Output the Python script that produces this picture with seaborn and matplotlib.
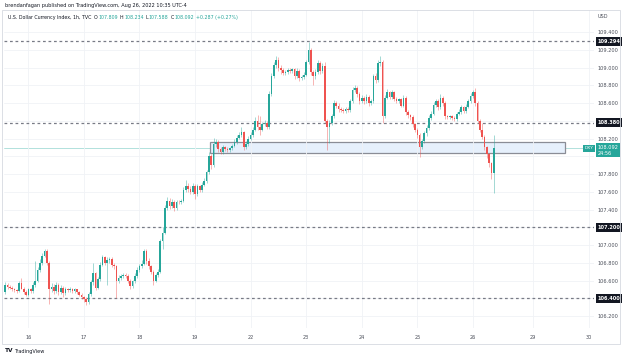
import pandas as pd
import matplotlib
matplotlib.use("Agg")
import matplotlib.pyplot as plt
import matplotlib.transforms as mtransforms
from matplotlib.patches import Rectangle
import seaborn as sns

# hourly DXY candles (open = previous close)
first_open = 106.47
closes = [
    106.55, 106.53, 106.52, 106.50, 106.49, 106.48, 106.57, 106.51, 106.47, 106.44,
    106.50, 106.48, 106.55, 106.60, 106.72, 106.80, 106.88, 106.93, 106.80, 106.50,
    106.53, 106.48, 106.55, 106.47, 106.52, 106.46, 106.50, 106.49, 106.51, 106.48,
    106.50, 106.47, 106.44, 106.41, 106.39, 106.36, 106.45, 106.58, 106.68, 106.52,
    106.62, 106.78, 106.86, 106.80, 106.83, 106.84, 106.78, 106.76, 106.60, 106.63,
    106.65, 106.66, 106.65, 106.60, 106.54, 106.59, 106.65, 106.72, 106.76, 106.79,
    106.93, 106.82, 106.76, 106.70, 106.60, 106.66, 106.70, 107.04, 107.14, 107.42,
    107.50, 107.44, 107.49, 107.42, 107.49, 107.48, 107.50, 107.62, 107.66, 107.63,
    107.60, 107.67, 107.57, 107.66, 107.62, 107.68, 107.72, 107.82, 108.00, 107.90,
    108.14, 108.16, 108.08, 108.05, 108.10, 108.08, 108.07, 108.09, 108.12, 108.16,
    108.21, 108.24, 108.27, 108.10, 108.14, 108.20, 108.24, 108.30, 108.40, 108.33,
    108.30, 108.36, 108.38, 108.33, 108.70, 108.90, 109.03, 109.08, 109.00, 108.97,
    108.94, 108.95, 108.97, 108.96, 108.98, 108.90, 108.96, 108.88, 108.89, 108.92,
    109.06, 109.20, 108.95, 108.90, 108.95, 109.05, 108.96, 109.02, 108.40, 108.33,
    108.38, 108.45, 108.60, 108.57, 108.53, 108.52, 108.51, 108.53, 108.52, 108.62,
    108.75, 108.77, 108.70, 108.62, 108.66, 108.62, 108.67, 108.60, 108.62, 108.90,
    108.86, 109.05, 109.06, 108.45, 108.66, 108.72, 108.67, 108.72, 108.65, 108.62,
    108.64, 108.57, 108.66, 108.50, 108.46, 108.44, 108.36, 108.30, 108.24, 108.11,
    108.17, 108.26, 108.32, 108.43, 108.48, 108.58, 108.62, 108.55, 108.66, 108.60,
    108.45, 108.44, 108.45, 108.43, 108.42, 108.48, 108.50, 108.55, 108.51, 108.56,
    108.62, 108.68, 108.72, 108.60, 108.40, 108.30, 108.22, 108.10, 108.02, 107.92,
    107.809, 108.092,
]
highs = [
    106.58, 106.57, 106.55, 106.54, 106.52, 106.51, 106.60, 106.63, 106.53, 106.49,
    106.52, 106.52, 106.58, 106.82, 106.75, 106.84, 106.91, 106.96, 106.95, 106.82,
    106.57, 106.56, 106.58, 106.57, 106.55, 106.54, 106.53, 106.52, 106.53, 106.52,
    106.52, 106.51, 106.48, 106.46, 106.43, 106.41, 106.47, 106.61, 106.80, 106.70,
    106.64, 106.81, 106.89, 106.88, 106.86, 106.87, 106.87, 106.80, 106.78, 106.66,
    106.67, 106.68, 106.68, 106.67, 106.62, 106.61, 106.68, 106.75, 106.79, 106.83,
    106.96, 106.95, 106.85, 106.78, 106.72, 106.69, 106.73, 107.07, 107.20, 107.45,
    107.54, 107.53, 107.52, 107.51, 107.51, 107.51, 107.52, 107.65, 107.73, 107.70,
    107.66, 107.70, 107.69, 107.69, 107.68, 107.71, 107.75, 107.85, 108.05, 108.02,
    108.21, 108.19, 108.18, 108.10, 108.13, 108.12, 108.10, 108.11, 108.14, 108.19,
    108.24, 108.27, 108.33, 108.29, 108.17, 108.23, 108.27, 108.33, 108.44, 108.47,
    108.45, 108.39, 108.41, 108.40, 108.73, 108.94, 109.06, 109.13, 109.12, 109.03,
    108.99, 108.97, 108.99, 108.99, 109.00, 109.00, 108.99, 108.98, 108.92, 108.95,
    109.09, 109.29, 109.22, 108.97, 108.98, 109.09, 109.07, 109.05, 109.06, 108.42,
    108.41, 108.48, 108.63, 108.62, 108.60, 108.55, 108.54, 108.55, 108.55, 108.65,
    108.78, 108.80, 108.79, 108.72, 108.69, 108.68, 108.70, 108.69, 108.65, 108.93,
    108.94, 109.08, 109.13, 109.08, 108.69, 108.76, 108.74, 108.75, 108.74, 108.67,
    108.66, 108.66, 108.69, 108.68, 108.52, 108.48, 108.46, 108.38, 108.32, 108.26,
    108.20, 108.29, 108.35, 108.46, 108.51, 108.61, 108.65, 108.64, 108.70, 108.68,
    108.62, 108.47, 108.47, 108.47, 108.45, 108.50, 108.53, 108.58, 108.57, 108.59,
    108.65, 108.71, 108.75, 108.77, 108.62, 108.42, 108.38, 108.24, 108.12, 108.04,
    107.94, 108.234,
]
lows = [
    106.45, 106.51, 106.50, 106.48, 106.47, 106.46, 106.47, 106.50, 106.45, 106.42,
    106.43, 106.46, 106.46, 106.53, 106.58, 106.70, 106.77, 106.86, 106.77, 106.33,
    106.47, 106.45, 106.46, 106.44, 106.45, 106.41, 106.44, 106.47, 106.47, 106.46,
    106.46, 106.45, 106.42, 106.39, 106.36, 106.32, 106.34, 106.43, 106.55, 106.49,
    106.50, 106.60, 106.76, 106.77, 106.55, 106.80, 106.75, 106.73, 106.40, 106.57,
    106.61, 106.63, 106.63, 106.57, 106.51, 106.52, 106.57, 106.63, 106.70, 106.74,
    106.77, 106.79, 106.73, 106.67, 106.55, 106.58, 106.64, 106.68, 106.96, 107.12,
    107.40, 107.41, 107.42, 107.38, 107.40, 107.46, 107.46, 107.48, 107.60, 107.60,
    107.57, 107.58, 107.52, 107.55, 107.60, 107.60, 107.66, 107.70, 107.80, 107.86,
    107.88, 108.11, 108.05, 108.02, 108.03, 108.06, 108.05, 108.05, 108.07, 108.10,
    108.14, 108.19, 108.22, 108.07, 108.08, 108.12, 108.18, 108.22, 108.28, 108.30,
    108.24, 108.28, 108.34, 108.31, 108.31, 108.68, 108.88, 109.00, 108.96, 108.93,
    108.91, 108.92, 108.93, 108.94, 108.94, 108.87, 108.88, 108.85, 108.86, 108.87,
    108.90, 109.04, 108.92, 108.80, 108.87, 108.93, 108.93, 108.94, 108.37, 108.07,
    108.15, 108.35, 108.43, 108.54, 108.50, 108.50, 108.49, 108.49, 108.50, 108.50,
    108.60, 108.72, 108.67, 108.59, 108.60, 108.59, 108.60, 108.57, 108.58, 108.60,
    108.82, 108.84, 109.02, 108.38, 108.43, 108.64, 108.64, 108.65, 108.62, 108.60,
    108.60, 108.55, 108.55, 108.47, 108.43, 108.41, 108.33, 108.27, 108.21, 107.99,
    108.08, 108.15, 108.23, 108.30, 108.41, 108.46, 108.56, 108.52, 108.53, 108.57,
    108.42, 108.42, 108.42, 108.41, 108.40, 108.40, 108.46, 108.48, 108.49, 108.49,
    108.54, 108.60, 108.66, 108.57, 108.37, 108.27, 108.19, 108.07, 107.98, 107.88,
    107.74, 107.588,
]

day_labels = ["16", "17", "18", "19", "22", "23", "24", "25", "26", "29", "30"]
day_bars = [10, 34, 58, 82, 106, 130, 154, 178, 202, 228, 252]

price_ticks = [109.4, 109.2, 109.0, 108.8, 108.6, 108.4, 108.2, 108.0,
               107.8, 107.6, 107.4, 107.2, 107.0, 106.8, 106.6, 106.4, 106.2]
hidden_ticks = [108.4, 108.0, 107.2, 106.4]

levels = [109.294, 108.380, 107.200, 106.400]
zone_low, zone_high = 108.04, 108.16
zone_start, zone_end = 88.5, 241.8
last_price = 108.092

UP, DOWN = "#26a69a", "#ef5350"
DARK = "#131722"

sns.set_theme(style="white")
plt.rcParams['font.family'] = ['DejaVu Sans']

W, H = 624, 359
fig = plt.figure(figsize=(W / 100, H / 100), dpi=100)
fig.patch.set_facecolor("white")


def fx(px):
    return px / W


def fy(py):
    return 1 - py / H


# outer frame
fig.add_artist(Rectangle((fx(1.5), fy(344)), fx(620) - fx(1.5), fy(10) - fy(344),
                         transform=fig.transFigure, fill=False, ec="#d6d9e0", lw=0.6))

ax = fig.add_axes([fx(4), fy(328), fx(594) - fx(4), fy(10) - fy(328)])

df = pd.DataFrame({"close": closes, "high": highs, "low": lows})
df["open"] = [first_open] + closes[:-1]
df["color"] = [UP if c >= o else DOWN for o, c in zip(df["open"], df["close"])]
df["bottom"] = df[["open", "close"]].min(axis=1)
df["body"] = (df["close"] - df["open"]).abs().clip(lower=0.008)

ax.vlines(df.index, df["low"], df["high"], colors=df["color"], linewidth=0.5, alpha=0.6)
ax.bar(df.index, df["body"], bottom=df["bottom"], width=0.72,
       color=df["color"], linewidth=0)

# zone
ax.add_patch(Rectangle((zone_start, zone_low), zone_end - zone_start, zone_high - zone_low,
                       facecolor="#e6f0fc", edgecolor="#8a8d96", lw=0.9, zorder=0.5))

# horizontal levels
for lv in levels:
    ax.axhline(lv, color="#787b86", ls=(0, (2.2, 2.2)), lw=0.9, zorder=0.6)
ax.axhline(last_price, color="#a5dcd7", lw=0.6, zorder=0.4)

ax.set_xlim(-0.52, 254.3)
ax.set_ylim(106.065, 109.648)

ax.set_xticks(day_bars)
ax.set_xticklabels(day_labels, fontsize=3.6, color="#4a4e59")
ax.set_yticks(price_ticks)
ax.set_yticklabels(["" if t in hidden_ticks else f"{t:.3f}" for t in price_ticks],
                   fontsize=3.6, color="#4a4e59")
ax.yaxis.tick_right()
ax.tick_params(axis="y", length=0, pad=2.5)
ax.tick_params(axis="x", length=0, pad=5)
ax.grid(True, color="#f0f2f6", lw=0.6)
ax.set_axisbelow(True)
for s in ax.spines.values():
    s.set_visible(False)

# right-side price boxes
tr = mtransforms.blended_transform_factory(ax.transAxes, ax.transData)
for lv in levels:
    ax.text(1.006, lv, f"{lv:.3f}", transform=tr, fontsize=3.6, color="white",
            va="center", ha="left", fontweight="bold",
            bbox=dict(boxstyle="square,pad=0.35", fc=DARK, ec="none"))
ax.text(1.006, last_price - 0.025, f"{last_price:.3f}\n24:56", transform=tr, fontsize=3.6,
        color="white", va="center", ha="left", linespacing=1.1,
        bbox=dict(boxstyle="square,pad=0.35", fc=UP, ec="none"))
ax.text(0.984, last_price, "DXY", transform=tr, fontsize=3.2, color="white",
        va="center", ha="left", bbox=dict(boxstyle="square,pad=0.35", fc=UP, ec="none"))
fig.text(fx(598), fy(17), "USD", fontsize=3.6, color="#4a4e59", va="center")

# header texts
fig.text(fx(5), fy(5), "brendanfagan published on TradingView.com, Aug 26, 2022 10:35 UTC-4",
         fontsize=3.6, color=DARK, va="center")

renderer = fig.canvas.get_renderer()
parts = [("U.S. Dollar Currency Index, 1h, TVC", DARK, 2.5),
         ("O", DARK, 0.6), ("107.809", UP, 2.0),
         ("H", DARK, 0.6), ("108.234", UP, 2.0),
         ("L", DARK, 0.6), ("107.588", UP, 2.0),
         ("C", DARK, 0.6), ("108.092", UP, 2.0),
         ("+0.287 (+0.27%)", UP, 0)]
cur = 8.0
for txt, col, gap in parts:
    t = fig.text(fx(cur), fy(17.5), txt, fontsize=3.4, color=col, va="center")
    cur += t.get_window_extent(renderer).width + gap

# footer logo
fig.text(fx(5), fy(351), "TV", fontsize=4.2, fontweight="bold", color=DARK, va="center")
fig.text(fx(14), fy(351), "TradingView", fontsize=3.6, color=DARK, va="center")

fig.savefig("out.png", dpi=100)
